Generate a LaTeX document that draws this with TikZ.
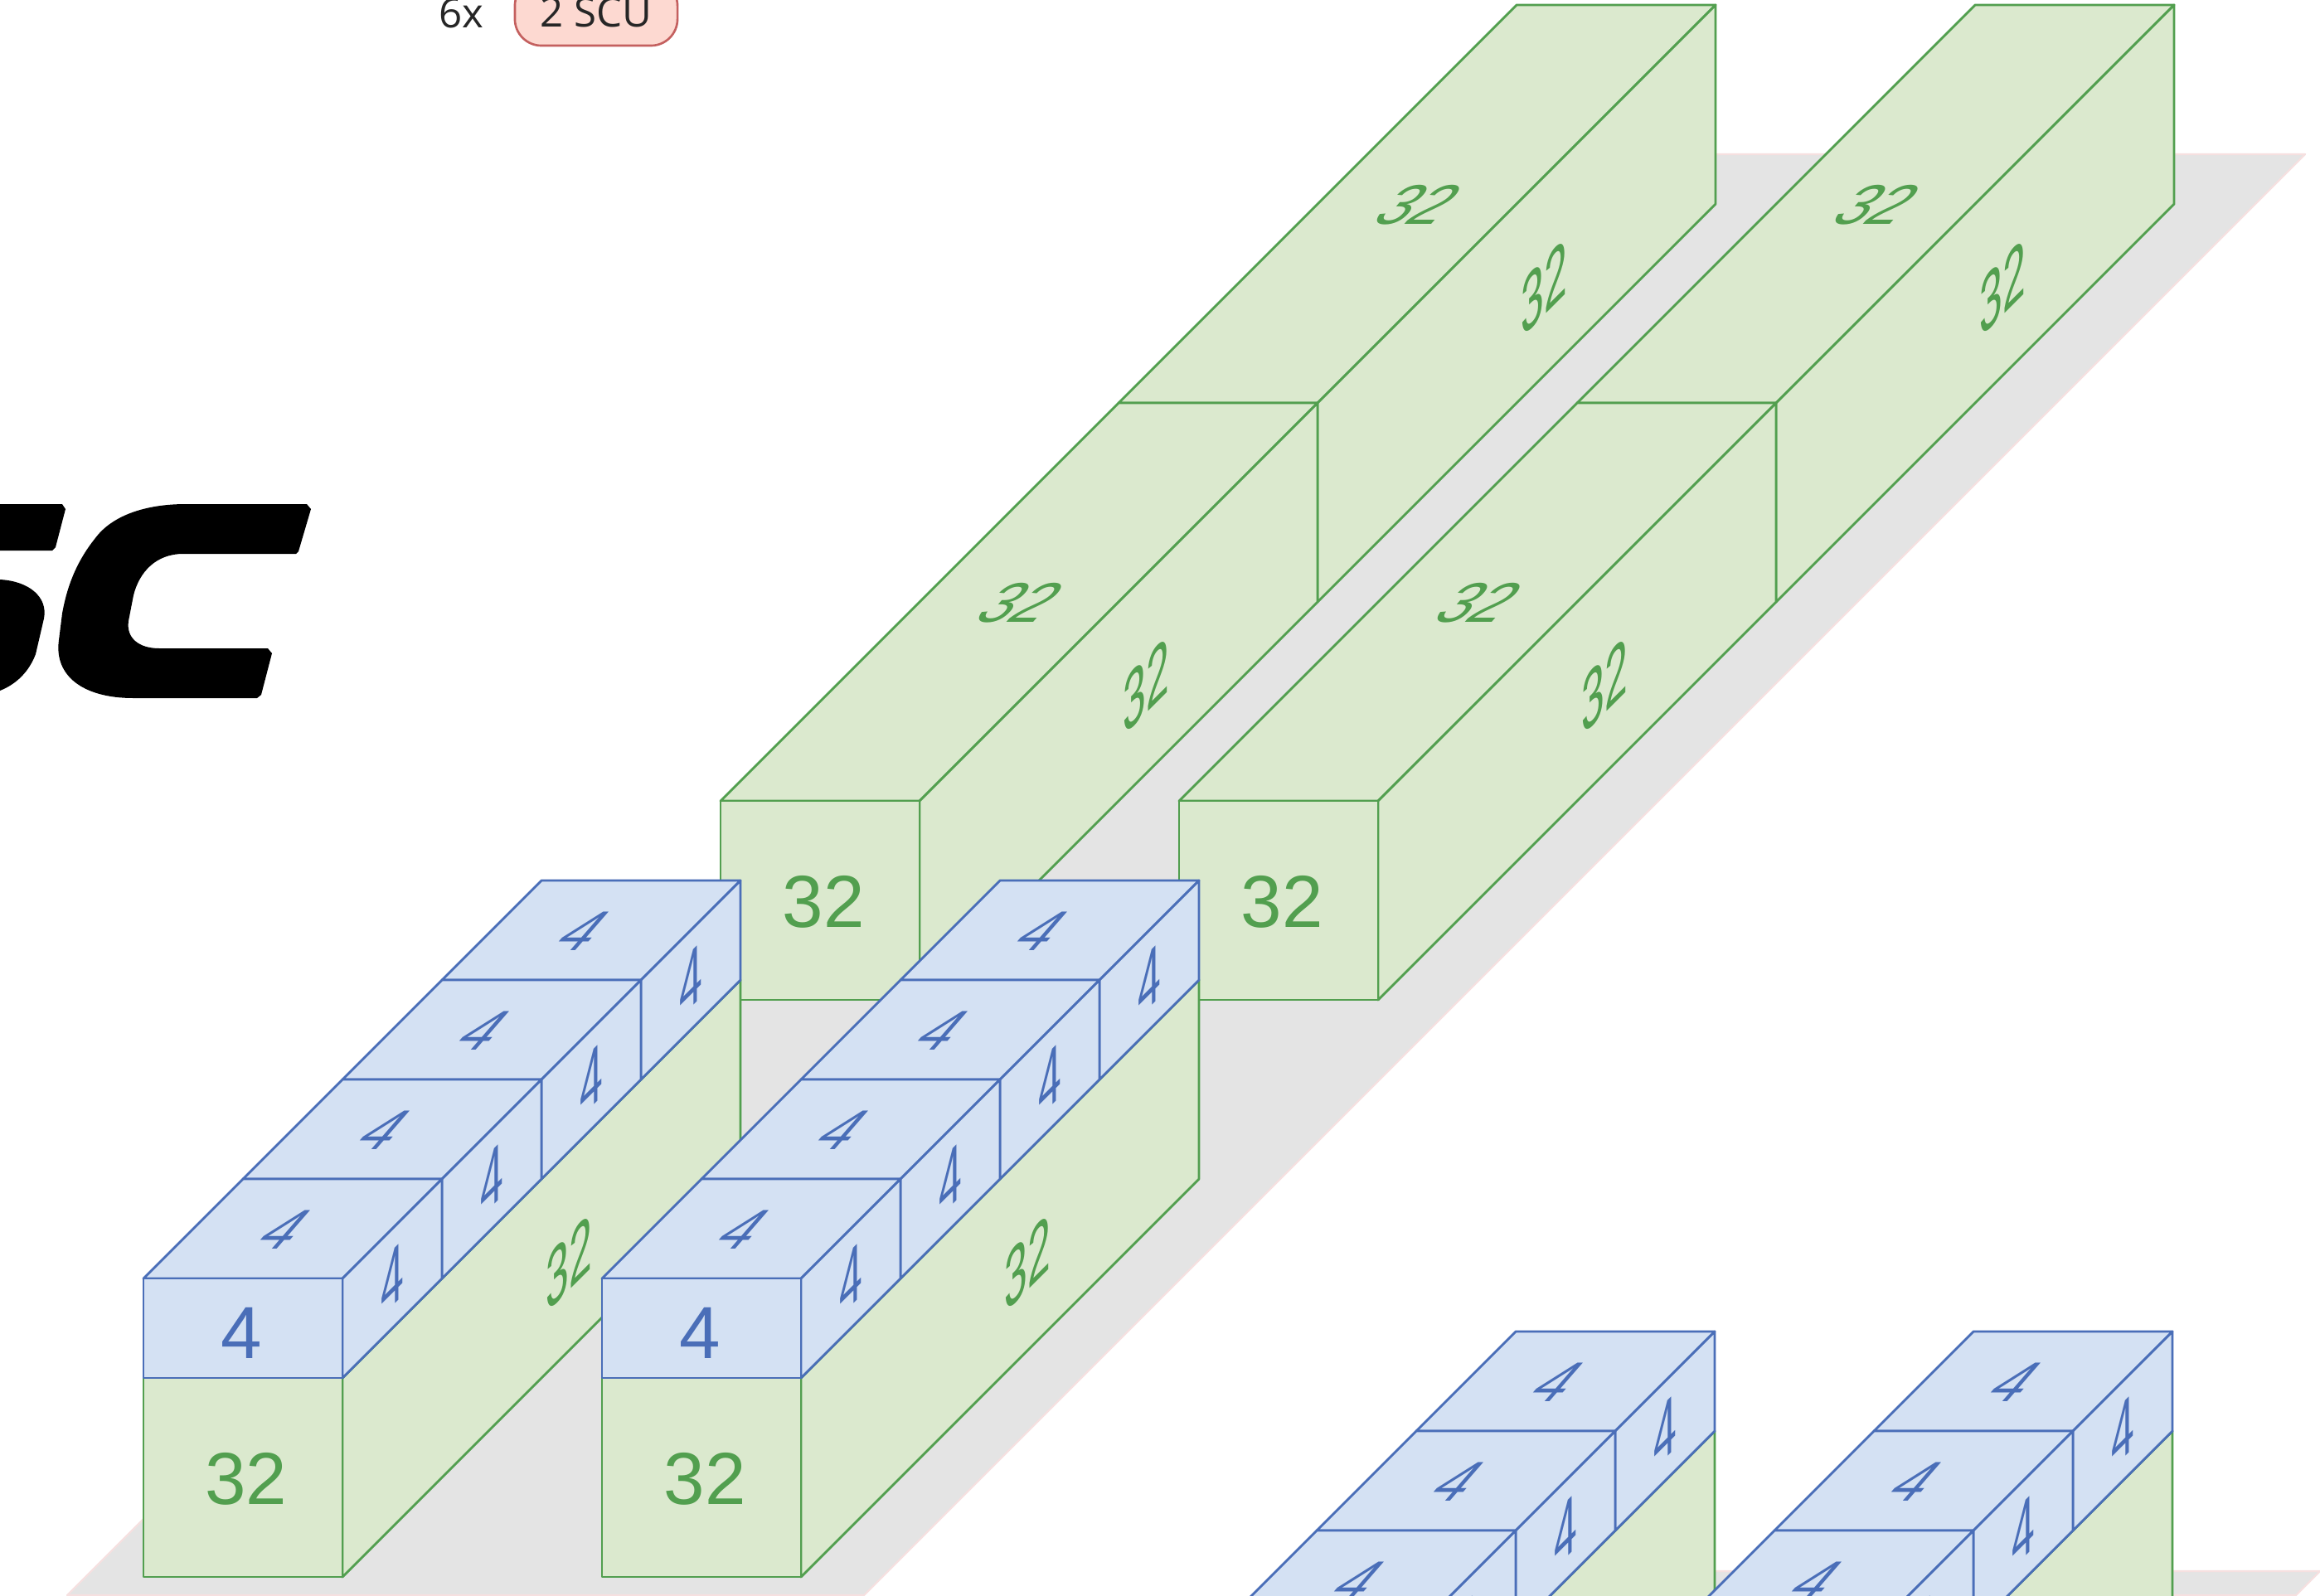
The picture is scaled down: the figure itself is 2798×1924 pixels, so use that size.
\documentclass[tikz,border=0pt]{standalone}
\usepackage{fontspec}
\setmainfont{Liberation Sans}
\newfontfamily\notefont{Open Sans}
\definecolor{planefill}{HTML}{E4E4E4}
\definecolor{planeline}{HTML}{F6E0E0}
\definecolor{greenfill}{HTML}{DBE9CE}
\definecolor{greenline}{HTML}{529F4F}
\definecolor{bluefill}{HTML}{D4E1F3}
\definecolor{blueline}{HTML}{4A6EB8}
\definecolor{pillfill}{HTML}{FDD9D1}
\definecolor{pillline}{HTML}{C4605F}
\begin{document}
\begin{tikzpicture}[x=0.01cm, y=-0.01cm, line join=round,
		plane/.style={fill=planefill, draw=planeline, line width=0.6pt},
		greenface/.style={fill=greenfill, draw=greenline, line width=0.8pt},
		blueface/.style={fill=bluefill, draw=blueline, line width=0.8pt},
		size/.style={font=\fontsize{25.3}{30}\selectfont, inner sep=0pt},
		greentext/.style={size, text=greenline},
		bluetext/.style={size, text=blueline},
		topface/.style={cm={0.8,0,0.66,0.76,(0,0)}},
		sideface/.style={cm={0.56,0.56,0,1.1,(0,0)}}]
	\useasboundingbox (0, 0) rectangle (2798, 1924);
	\clip (0, 0) rectangle (2798, 1924);

	% floor planes
	\fill[white] (0, 0) rectangle (2798, 1924);
	\draw[plane] (1819, 186) -- (2780, 186) -- (1042, 1924) -- (81, 1924) -- cycle;
	\draw[plane] (1837, 1895) -- (2798, 1895) -- (2769, 1924) -- (1808, 1924) -- cycle;

	% long green boxes at the back
	\foreach \xo/\yo/\nm in {869/1206/p, 1422/1206/q} {
		\foreach \k in {1, 0} {
			\draw[greenface] ({\xo+480*\k}, {\yo-240-480*\k}) -- ++(240, 0) -- ++(480, -480) -- ++(-240, 0) -- cycle;
			\draw[greenface] ({\xo+240+480*\k}, {\yo-480*\k}) -- ++(480, -480) -- ++(0, -240) -- ++(-480, 480) -- cycle;
			\node[greentext, topface] (\nm top\k) at ({\xo+362+480*\k}, {\yo-479-480*\k}) {32};
			\node[greentext, sideface] (\nm side\k) at ({\xo+513+480*\k}, {\yo-379-480*\k}) {32};
		}
		\draw[greenface] (\xo, {\yo-240}) rectangle ++(240, 240);
		\node[greentext] (\nm front) at ({\xo+124}, {\yo-118}) {32};
	}

	% green boxes with four blue blocks on top
	\foreach \xo/\yo/\nm in {1348/2446/c, 1900/2446/d, 173/1902/a, 726/1902/b} {
		\draw[greenface] ({\xo+240}, \yo) -- ++(480, -480) -- ++(0, -240) -- ++(-480, 480) -- cycle;
		\draw[greenface] (\xo, {\yo-240}) rectangle ++(240, 240);
		\node[greentext] (\nm front) at ({\xo+124}, {\yo-118}) {32};
		\node[greentext, sideface] (\nm side) at ({\xo+513}, {\yo-379}) {32};
		\foreach \i in {3, 2, 1, 0} {
			\draw[blueface] ({\xo+120*\i}, {\yo-360-120*\i}) -- ++(240, 0) -- ++(120, -120) -- ++(-240, 0) -- cycle;
			\draw[blueface] ({\xo+240+120*\i}, {\yo-240-120*\i}) -- ++(120, -120) -- ++(0, -120) -- ++(-120, 120) -- cycle;
			\node[bluetext, topface] (\nm top\i) at ({\xo+170+120*\i}, {\yo-419-120*\i}) {4};
			\node[bluetext, sideface] (\nm side\i) at ({\xo+300+120*\i}, {\yo-360-120*\i}) {4};
		}
		\draw[blueface] (\xo, {\yo-360}) rectangle ++(240, 120);
		\node[bluetext] (\nm blue) at ({\xo+118}, {\yo-294}) {4};
	}

	% cut off legend
	\node[font=\notefont\fontsize{14}{17}\selectfont, text=black!85, anchor=base] (times) at (556, 33) {6x};
	\node[font=\notefont\fontsize{14}{17}\selectfont, text=black!85, fill=pillfill, draw=pillline, line width=0.75pt,
		rounded corners=0.32cm, minimum width=1.96cm, minimum height=0.8cm, inner sep=0pt] (scu) at (719, 15) {2 SCU};

	% end of the logo
	\fill[black] (0, 608) -- (75, 608) -- (79, 614) -- (67, 660) -- (63, 664) -- (0, 664) -- cycle;
	\fill[black] (0, 699) .. controls (35, 701) and (58, 720) .. (53, 746) -- (43, 789) .. controls (35, 810) and (20, 825) .. (0, 833) -- cycle;
	\fill[black] (224, 608) -- (370, 608) -- (375, 614) -- (360, 665) -- (357, 668) -- (221, 668)
		.. controls (188, 668) and (168, 690) .. (161, 718) -- (155, 749) .. controls (152, 770) and (168, 782) .. (192, 782)
		-- (323, 782) -- (328, 788) -- (315, 838) -- (310, 842) -- (161, 842)
		.. controls (100, 842) and (65, 815) .. (71, 772) -- (75, 740) .. controls (80, 712) and (90, 680) .. (115, 649)
		.. controls (135, 622) and (175, 608) .. (224, 608) -- cycle;
\end{tikzpicture}
\end{document}
